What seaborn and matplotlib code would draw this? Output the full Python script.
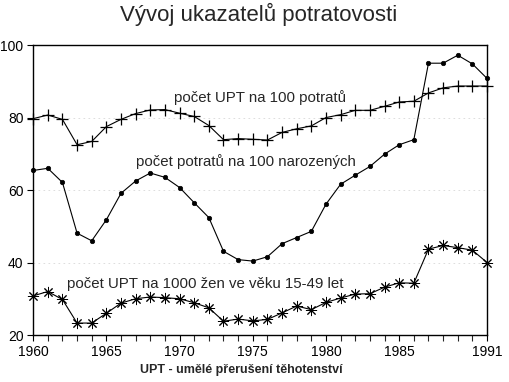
import matplotlib
matplotlib.use("Agg")
import matplotlib.pyplot as plt
import seaborn as sns
import pandas as pd

years = [1960, 1961, 1962, 1963, 1964, 1965, 1966, 1967, 1968, 1969,
         1970, 1971, 1972, 1973, 1974, 1975, 1976, 1977, 1978, 1979,
         1980, 1981, 1982, 1983, 1984, 1985, 1986, 1987, 1988, 1989,
         1990, 1991]

upt_per_100_abortions = [79.7, 80.7, 79.5, 72.5, 73.4, 77.5, 79.5, 81.1, 82.1, 82.2,
                         81.2, 80.3, 77.8, 73.9, 74.2, 74.0, 73.8, 75.9, 76.9, 77.7,
                         80.0, 80.8, 82.0, 82.0, 83.1, 84.3, 84.5, 86.8, 88.2, 88.7,
                         88.7, 88.7]

abortions_per_100_births = [65.4, 66.0, 62.1, 48.1, 46.0, 51.8, 59.1, 62.5, 64.7, 63.5,
                            60.7, 56.5, 52.4, 43.1, 40.8, 40.4, 41.6, 45.2, 46.9, 48.6,
                            56.1, 61.6, 64.1, 66.5, 69.9, 72.5, 73.9, 95.0, 95.0, 97.2,
                            94.8, 90.8]

upt_per_1000_women = [30.8, 32.0, 29.8, 23.3, 23.3, 26.0, 28.8, 30.0, 30.5, 30.3,
                      30.0, 28.9, 27.5, 23.8, 24.4, 23.9, 24.3, 26.1, 28.0, 27.0,
                      29.0, 30.2, 31.3, 31.4, 33.2, 34.4, 34.3, 43.7, 44.7, 44.1,
                      43.4, 40.0]

series_labels = ["počet UPT na 100 potratů",
                 "počet potratů na 100 narozených",
                 "počet UPT na 1000 žen ve věku 15-49 let"]
title = "Vývoj ukazatelů potratovosti"
footnote = "UPT - umělé přerušení těhotenství"
xtick_labels = [1960, 1965, 1970, 1975, 1980, 1985, 1991]
ytick_values = [20, 40, 60, 80, 100]

sns.set_style("ticks")
plt.rcParams['font.family'] = ['Liberation Sans', 'DejaVu Sans']

df = pd.DataFrame({
    "year": years,
    "upt100": upt_per_100_abortions,
    "pot100": abortions_per_100_births,
    "upt1000": upt_per_1000_women,
})

fig = plt.figure(figsize=(5.10, 3.82), dpi=100)
ax = fig.add_axes([0.065, 0.123, 0.890, 0.759])

for yv in [40, 60, 80]:
    ax.axhline(yv, color="#d8d8d8", lw=0.6, ls=(0, (2, 4)), zorder=0)

common = dict(ax=ax, color="black", lw=0.8, linestyle="-", clip_on=False,
              markeredgecolor="black", markerfacecolor="black")
sns.lineplot(data=df, x="year", y="upt100", marker="+", markersize=9,
             markeredgewidth=0.9, **common)
sns.lineplot(data=df, x="year", y="pot100", marker="o", markersize=3.2,
             markeredgewidth=0.5, **common)
sns.lineplot(data=df, x="year", y="upt1000", marker=(8, 2, 0), markersize=8,
             markeredgewidth=0.7, **common)

ax.set_xlim(1960, 1991)
ax.set_ylim(20, 100)
ax.set_xticks(years, minor=True)
ax.set_xticks(xtick_labels)
ax.set_xticklabels([str(v) for v in xtick_labels], fontsize=10)
ax.set_yticks(ytick_values)
ax.set_yticklabels([str(v) for v in ytick_values], fontsize=10)
ax.tick_params(axis="both", which="major", direction="out", length=4, width=0.8, pad=3, colors="black")
ax.tick_params(axis="x", which="minor", direction="out", length=4, width=0.8)
ax.set_xlabel("")
ax.set_ylabel("")
for sp in ax.spines.values():
    sp.set_visible(True)
    sp.set_linewidth(1.0)
    sp.set_color("black")

ax.text(1969.6, 85.6, series_labels[0], fontsize=10.8, va="center", ha="left")
ax.text(1967.0, 67.8, series_labels[1], fontsize=10.8, va="center", ha="left")
ax.text(1962.3, 34.2, series_labels[2], fontsize=10.8, va="center", ha="left")

fig.text(0.508, 0.962, title, fontsize=16, ha="center", va="center")
fig.text(0.275, 0.031, footnote, fontsize=9, fontweight="bold", ha="left", va="center")

fig.savefig("out.png", dpi=100)
